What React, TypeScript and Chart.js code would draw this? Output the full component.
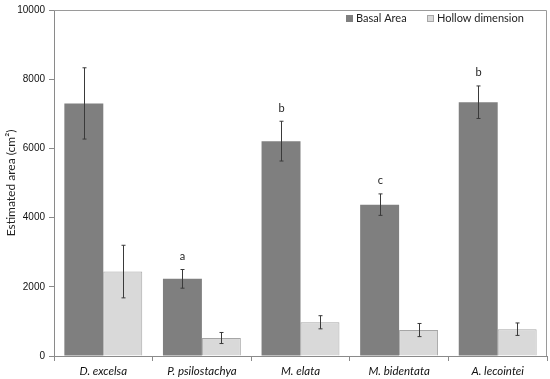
import React, { useEffect, useRef } from "react";
import { Chart, registerables } from "chart.js";

Chart.register(...registerables);

const categories = ["D. excelsa", "P. psilostachya", "M. elata", "M. bidentata", "A. lecointei"];
const basalArea = [7300, 2230, 6210, 4375, 7335];
const basalErr = [1030, 270, 575, 310, 470];
const hollowDim = [2440, 520, 975, 750, 775];
const hollowErr = [760, 160, 190, 190, 180];
const letters = ["", "a", "b", "c", "b"];
const yTicks = [0, 2000, 4000, 6000, 8000, 10000];

const errors = [basalErr, hollowErr];

const customPlugin = {
  id: "custom",
  afterDatasetsDraw(chart: any) {
    const ctx = chart.ctx;
    const yScale = chart.scales.y;
    const area = chart.chartArea;
    ctx.save();
    // frame top & right
    ctx.strokeStyle = "#9a9a9a";
    ctx.lineWidth = 1;
    ctx.beginPath();
    ctx.moveTo(area.left, area.top + 0.5);
    ctx.lineTo(area.right - 0.5, area.top + 0.5);
    ctx.lineTo(area.right - 0.5, area.bottom);
    ctx.stroke();
    // error bars
    ctx.strokeStyle = "#3a3a3a";
    for (let d = 0; d < 2; d++) {
      const meta = chart.getDatasetMeta(d);
      const vals = chart.data.datasets[d].data as number[];
      meta.data.forEach((bar: any, i: number) => {
        const v = vals[i];
        const e = errors[d][i];
        const x = Math.round(bar.x) + 0.5;
        const yt = yScale.getPixelForValue(v + e);
        const yb = yScale.getPixelForValue(v - e);
        ctx.beginPath();
        ctx.moveTo(x, yt);
        ctx.lineTo(x, yb);
        ctx.moveTo(x - 2, yt);
        ctx.lineTo(x + 2, yt);
        ctx.moveTo(x - 2, yb);
        ctx.lineTo(x + 2, yb);
        ctx.stroke();
        if (d === 0 && letters[i]) {
          ctx.fillStyle = "#222";
          ctx.font = "11px Lato, 'Open Sans', sans-serif";
          ctx.textAlign = "center";
          ctx.textBaseline = "middle";
          ctx.fillText(letters[i], x, yt - 13);
        }
      });
    }
    // legend
    const items = [
      { label: "Basal Area", color: "#7f7f7f", border: "#7f7f7f", x: 346 },
      { label: "Hollow dimension", color: "#d9d9d9", border: "#a6a6a6", x: 427 },
    ];
    ctx.font = "11px Lato, 'Open Sans', sans-serif";
    ctx.textAlign = "left";
    ctx.textBaseline = "middle";
    items.forEach((it) => {
      ctx.fillStyle = it.color;
      ctx.fillRect(it.x, 15, 7, 7);
      ctx.strokeStyle = it.border;
      ctx.strokeRect(it.x + 0.5, 15.5, 6, 6);
      ctx.fillStyle = "#222";
      ctx.fillText(it.label, it.x + 10, 18.5);
    });
    // y title
    ctx.save();
    ctx.translate(11, (area.top + area.bottom) / 2);
    ctx.rotate(-Math.PI / 2);
    ctx.textAlign = "center";
    ctx.textBaseline = "middle";
    ctx.font = "12px Lato, 'Open Sans', sans-serif";
    ctx.fillStyle = "#222";
    ctx.fillText("Estimated area (cm²)", 0, 0);
    ctx.restore();
    ctx.restore();
  },
};

export default function App() {
  const ref = useRef<HTMLCanvasElement>(null);
  useEffect(() => {
    document.body.style.margin = "0";
    const chart = new Chart(ref.current!, {
      type: "bar",
      data: {
        labels: categories,
        datasets: [
          {
            label: "Basal Area",
            data: basalArea,
            backgroundColor: "#7f7f7f",
            borderColor: "#7f7f7f",
            borderWidth: 0,
            categoryPercentage: 0.79,
            barPercentage: 1,
          },
          {
            label: "Hollow dimension",
            data: hollowDim,
            backgroundColor: "#d9d9d9",
            borderColor: "#a6a6a6",
            borderWidth: 1,
            categoryPercentage: 0.79,
            barPercentage: 1,
          },
        ],
      },
      options: {
        animation: false,
        responsive: false,
        maintainAspectRatio: false,
        layout: { padding: { top: 7, right: 3, left: 0, bottom: 0 } },
        plugins: { legend: { display: false }, tooltip: { enabled: false } },
        scales: {
          x: {
            offset: true,
            grid: {
              offset: true,
              drawOnChartArea: false,
              drawTicks: true,
              tickLength: 5,
              color: "#8a8a8a",
            },
            border: { color: "#8a8a8a" },
            ticks: {
              color: "#111",
              padding: 3,
              font: { family: "Lato, 'Open Sans', sans-serif", size: 11.5, style: "italic" },
            },
            afterFit: (s: any) => {
              s.height = 23;
            },
          },
          y: {
            min: 0,
            max: 10000,
            afterBuildTicks: (s: any) => {
              s.ticks = yTicks.map((v) => ({ value: v }));
            },
            grid: {
              drawOnChartArea: false,
              drawTicks: true,
              tickLength: 5,
              color: "#8a8a8a",
            },
            border: { color: "#8a8a8a" },
            ticks: {
              color: "#111",
              padding: 4,
              callback: (v: any) => String(v),
              font: { family: "'Liberation Sans', sans-serif", size: 10 },
            },
            afterFit: (s: any) => {
              s.width = 54;
            },
          },
        },
      },
      plugins: [customPlugin],
    });
    return () => chart.destroy();
  }, []);
  return <canvas ref={ref} width={550} height={379} style={{ display: "block" }} />;
}
